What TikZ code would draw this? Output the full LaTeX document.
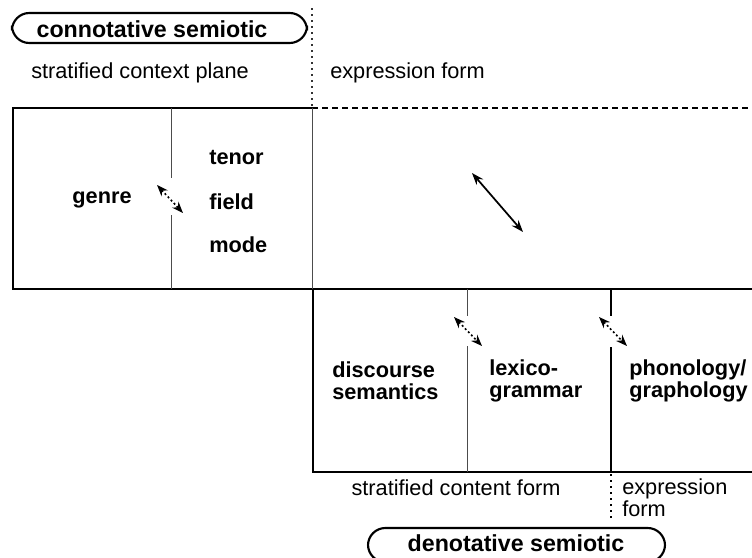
\documentclass[tikz,border=0pt]{standalone}
\usepackage{fontspec}
\setmainfont{Liberation Sans}
\usetikzlibrary{arrows.meta}
\begin{document}
\begin{tikzpicture}[x=0.75pt,y=-0.75pt,
  thickline/.style={line width=1.6pt},
  thinline/.style={line width=0.6pt, black!70},
  dotline/.style={line width=0.8pt, dash pattern=on 1.5pt off 3pt},
  dashline/.style={line width=1.3pt, dash pattern=on 4.5pt off 3pt},
  lbl/.style={inner sep=0pt, font=\fontsize{16.3}{19}\selectfont},
  blbl/.style={inner sep=0pt, font=\fontsize{16.3}{16.2}\selectfont\bfseries, align=left},
  semlbl/.style={inner sep=0pt, font=\fontsize{17.4}{20}\selectfont\bfseries},
  relarrow/.style={line width=1.3pt, {Stealth[length=9pt,width=6.5pt]}-{Stealth[length=9pt,width=6.5pt]}},
  dotarrow/.style={line width=1.2pt, dash pattern=on 1.5pt off 1.8pt, {Stealth[length=8.5pt,width=6.5pt]}-{Stealth[length=8.5pt,width=6.5pt]}}
]
\useasboundingbox (0,0) rectangle (752,557);

% capsules
\draw[line width=1.6pt, rounded corners=13pt] (12,13) rectangle (307,43);
\node[semlbl] (conn) at (152,29) {connotative semiotic};
\draw[line width=1.6pt, rounded corners=13pt] (368,528) rectangle (665,562);
\node[semlbl] (deno) at (516,543) {denotative semiotic};

% plane labels
\node[lbl, anchor=west] (scp) at (31,73) {stratified context plane};
\node[lbl, anchor=west] (ef1) at (330,73) {expression form};
\node[lbl] (scf) at (456,488) {stratified content form};
\node[lbl, anchor=west, align=left, font=\fontsize{16.3}{16.5}\selectfont] (ef2) at (622,498) {expression\\form};

% top box
\draw[thickline] (312,108) -- (13,108) -- (13,289) -- (752,289);
\draw[dashline] (312,108) -- (752,108);
\draw[thinline] (171,108) -- (171,178);
\draw[thinline] (171,215) -- (171,289);
\draw[dotline, black!80] (312,8) -- (312,108);
\draw[thinline] (312,108) -- (312,289);

% lower box
\draw[thickline] (313,289) -- (313,472) -- (752,472);
\draw[thinline] (467,289) -- (467,316);
\draw[thinline] (467,346) -- (467,472);
\draw[thickline] (611,289) -- (611,316);
\draw[thickline] (611,347) -- (611,472);
\draw[dotline, line width=1.2pt] (611,474) -- (611,522);

% content labels
\node[blbl] (genre) at (102,200) {genre};
\node[blbl, anchor=west] (tenor) at (209,158) {tenor};
\node[blbl, anchor=west] (field) at (209,202) {field};
\node[blbl, anchor=west] (mode) at (209,245) {mode};
\node[blbl, anchor=west] (ds) at (332,381) {discourse\\semantics};
\node[blbl, anchor=west] (lg) at (489,381) {lexico-\\grammar};
\node[blbl, anchor=west] (pg) at (629,381) {phonology/\\graphology};

% arrows
\coordinate (a1s) at (157,185); \coordinate (a1e) at (183,213);
\coordinate (a2s) at (472,173); \coordinate (a2e) at (523,232);
\coordinate (a3s) at (454,317); \coordinate (a3e) at (482,346);
\coordinate (a4s) at (599,317); \coordinate (a4e) at (627,346);
\draw[dotarrow] (a1s) -- (a1e);
\draw[relarrow] (a2s) -- (a2e);
\draw[dotarrow] (a3s) -- (a3e);
\draw[dotarrow] (a4s) -- (a4e);
\end{tikzpicture}
\end{document}
